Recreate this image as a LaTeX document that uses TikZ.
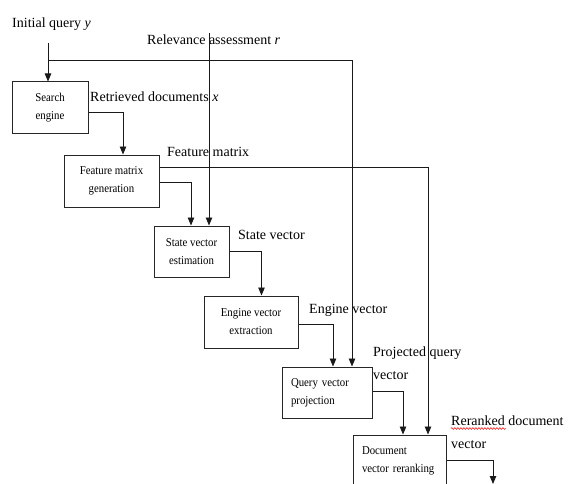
\documentclass[tikz,border=0pt]{standalone}
\usepackage{fontspec}
\setmainfont{Liberation Serif}
\newfontfamily\boxfont[FakeStretch=0.9]{Liberation Serif}
\usetikzlibrary{arrows.meta,calc,decorations.pathmorphing}
\begin{document}
\begin{tikzpicture}[x=1pt,y=-1pt,
  box/.style={draw=black!85,line width=1pt,inner sep=0pt,align=center,
    font=\boxfont\fontsize{12}{18}\selectfont},
  lbox/.style={box,align=left,inner xsep=9pt},
  lab/.style={inner sep=0pt,anchor=base west,font=\fontsize{14}{16}\selectfont},
  arr/.style={draw=black!90,line width=0.9pt,-{Triangle[length=8pt,width=6.5pt]}},
  ln/.style={draw=black!90,line width=0.9pt}]
\useasboundingbox (0,0) rectangle (570,484);
\clip (0,0) rectangle (570,484);
% boxes
\node[box,minimum width=76pt,minimum height=52pt] (se) at (50,108) {Search\\engine};
\node[box,minimum width=95pt,minimum height=52pt] (fm) at (111.5,181) {Feature matrix\\generation};
\node[box,minimum width=75pt,minimum height=51pt] (sv) at (191.5,251.5) {State vector\\estimation};
\node[box,minimum width=94pt,minimum height=52pt] (ev) at (251,322) {Engine vector\\extraction};
\node[lbox,text width=72pt,minimum height=51pt] (qv) at (327,392.5) {Query vector\\projection};
\node[lbox,text width=75pt,minimum height=52pt] (dv) at (399.5,461) {Document\\vector reranking};
% labels
\node[lab] (l1) at (12,28) {Initial query \textit{y}};
\node[lab] (l2) at (147,45) {Relevance assessment \textit{r}};
\node[lab] (l3) at (90,102) {Retrieved documents \textit{x}};
\node[lab] (l4) at (167,157) {Feature matrix};
\node[lab] (l5) at (238,239) {State vector};
\node[lab] (l6) at (309,313) {Engine vector};
\node[lab] (l7) at (373,356) {Projected query};
\node[lab] (l7b) at (373,379) {vector};
\node[lab] (l8) at (451,425) {Reranked document};
\node[lab] (l8b) at (451,448) {vector};
\draw[red,line width=0.5pt,decorate,decoration={snake,amplitude=0.9pt,segment length=3pt}] (451,428.5) -- (506,428.5);
% coordinates
\coordinate (q0) at (48,43);
\coordinate (j1) at (48,60);
\coordinate (c1) at (352,60);
\coordinate (r0) at (209,33);
\coordinate (c2) at (428,167);
\coordinate (out) at (493,484);
% connectors
\draw[arr] (q0) -- (q0 |- se.north);
\draw[arr] (j1) -- (c1) -- (c1 |- qv.north);
\draw[arr] (r0) -- (r0 |- sv.north);
\draw[arr] (fm.east |- c2) -- (c2) -- (c2 |- dv.north);
\draw[arr] ([yshift=-4pt]se.east) -| ([xshift=11.5pt]fm.north);
\draw[arr] ([yshift=-1pt]fm.east) -| ([xshift=-0.5pt]sv.north);
\draw[arr] (sv.east) -| ([xshift=10.5pt]ev.north);
\draw[arr] ([yshift=-2pt]ev.east) -| ([xshift=6pt]qv.north);
\draw[arr] ([yshift=1.5pt]qv.east) -| ([xshift=3.5pt]dv.north);
\draw[arr] ([yshift=1pt]dv.east) -| (out);
\end{tikzpicture}
\end{document}
